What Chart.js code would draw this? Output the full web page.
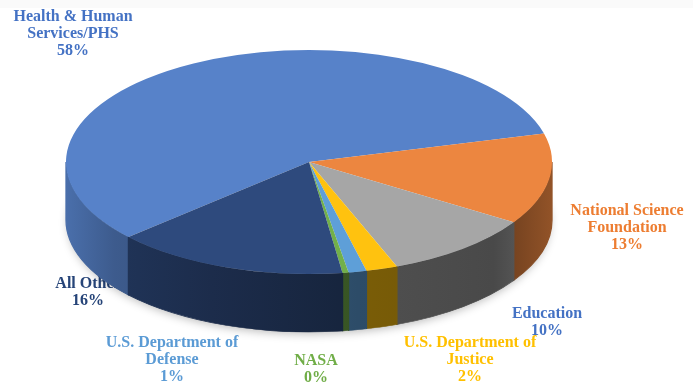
<!DOCTYPE html>
<html>
<head>
<meta charset="utf-8">
<script src="https://cdn.jsdelivr.net/npm/chart.js@4/dist/chart.umd.min.js"></script>
<style>
  body { margin: 0; background: linear-gradient(#fafafa 0, #fafafa 8px, #fff 8px) no-repeat #fff; }
  canvas { display: block; }
</style>
</head>
<body>
<canvas id="myChart" width="693" height="388"></canvas>
<script>
// agency shares (percent), Excel order, clockwise
const categories = [
  ["Health & Human", "Services/PHS"],
  ["National Science", "Foundation"],
  ["Education"],
  ["U.S. Department of", "Justice"],
  ["U.S. Department of", "Defense"],
  ["NASA"],
  ["All Other"],
];
const shares = [57.8, 13.2, 10.1, 2.1, 1.2, 0.4, 15.6];
const sliceColors = ["#5782C9", "#EC8640", "#A6A6A6", "#FFC20F", "#5E9FD8", "#72B04A", "#2E4A7D"];
const labelColors = ["#4472C4", "#ED7D31", "#4472C4", "#FFC000", "#5B9BD5", "#70AD47", "#264478"];

// look of the tilted pie
const view = { rx: 243, ry: 112, depth: 58 };
// label block centres, as offsets from the pie centre
const labelPlace = [
  [-236, -128], [318, 66], [238, 160], [161, 198], [-137, 198], [7, 207], [-221, 130],
];
const lineH = 17;

function shade(hex, f) {
  const n = parseInt(hex.slice(1), 16);
  const r = Math.round(((n >> 16) & 255) * f);
  const g = Math.round(((n >> 8) & 255) * f);
  const b = Math.round((n & 255) * f);
  return "rgb(" + r + "," + g + "," + b + ")";
}

function drawLabels(chart, cx, cy) {
  const ctx = chart.ctx;
  const total = shares.reduce((a, b) => a + b, 0);
  ctx.save();
  ctx.font = "bold 16px 'Liberation Serif', 'Times New Roman', serif";
  ctx.textAlign = "center";
  ctx.textBaseline = "middle";
  categories.forEach((lines, i) => {
    const all = lines.concat([Math.round((shares[i] / total) * 100) + "%"]);
    const x = cx + labelPlace[i][0];
    const y0 = cy + labelPlace[i][1] - ((all.length - 1) * lineH) / 2;
    ctx.fillStyle = labelColors[i];
    all.forEach((t, j) => ctx.fillText(t, x, y0 + j * lineH));
  });
  ctx.restore();
}

const pie3d = {
  id: "pie3d",
  beforeDatasetsDraw(chart) {
    const ctx = chart.ctx;
    const arcs = chart.getDatasetMeta(0).data;
    const cx = arcs[0].x, cy = arcs[0].y, R = arcs[0].outerRadius;
    drawLabels(chart, cx, cy);

    ctx.save();
    ctx.translate(cx, cy);
    ctx.scale(view.rx / R, view.ry / R);
    ctx.translate(-cx, -cy);
    const d = view.depth / (view.ry / R);

    // soft shadow under the base
    ctx.save();
    ctx.shadowColor = "rgba(0,0,0,0.28)";
    ctx.shadowBlur = 10;
    ctx.shadowOffsetY = 3;
    ctx.fillStyle = "#fff";
    ctx.beginPath();
    ctx.arc(cx, cy + d, R - 1, 0, Math.PI * 2);
    ctx.fill();
    ctx.restore();

    // side walls, only the front half shows
    arcs.forEach((arc, i) => {
      for (let k = -1; k <= 1; k++) {
        const lo = Math.max(arc.startAngle, 2 * Math.PI * k);
        const hi = Math.min(arc.endAngle, 2 * Math.PI * k + Math.PI);
        if (hi <= lo) continue;
        const g = ctx.createLinearGradient(cx - R, 0, cx + R, 0);
        const c = sliceColors[i];
        g.addColorStop(0, shade(c, 0.85));
        g.addColorStop(0.1, shade(c, 0.7));
        g.addColorStop(0.3, shade(c, 0.6));
        g.addColorStop(0.6, shade(c, 0.48));
        g.addColorStop(0.88, shade(c, 0.44));
        g.addColorStop(1, shade(c, 0.62));
        ctx.fillStyle = g;
        ctx.beginPath();
        ctx.arc(cx, cy, R, lo, hi);
        ctx.arc(cx, cy + d, R, hi, lo, true);
        ctx.closePath();
        ctx.fill();
        ctx.strokeStyle = g;
        ctx.lineWidth = 0.6;
        ctx.stroke();
      }
    });
  },
  afterDatasetsDraw(chart) {
    chart.ctx.restore();
  },
};

const ctx = document.getElementById("myChart").getContext("2d");
const myChart = new Chart(ctx, {
  type: "pie",
  data: {
    labels: categories,
    datasets: [
      {
        data: shares,
        backgroundColor: sliceColors,
        borderWidth: 0,
        clip: false,
      },
    ],
  },
  options: {
    responsive: false,
    animation: false,
    events: [],
    rotation: -132,
    layout: { padding: { left: 197, right: 272, top: 50, bottom: 114 } },
    plugins: {
      legend: { display: false },
      tooltip: { enabled: false },
    },
  },
  plugins: [pie3d],
});
</script>
</body>
</html>
